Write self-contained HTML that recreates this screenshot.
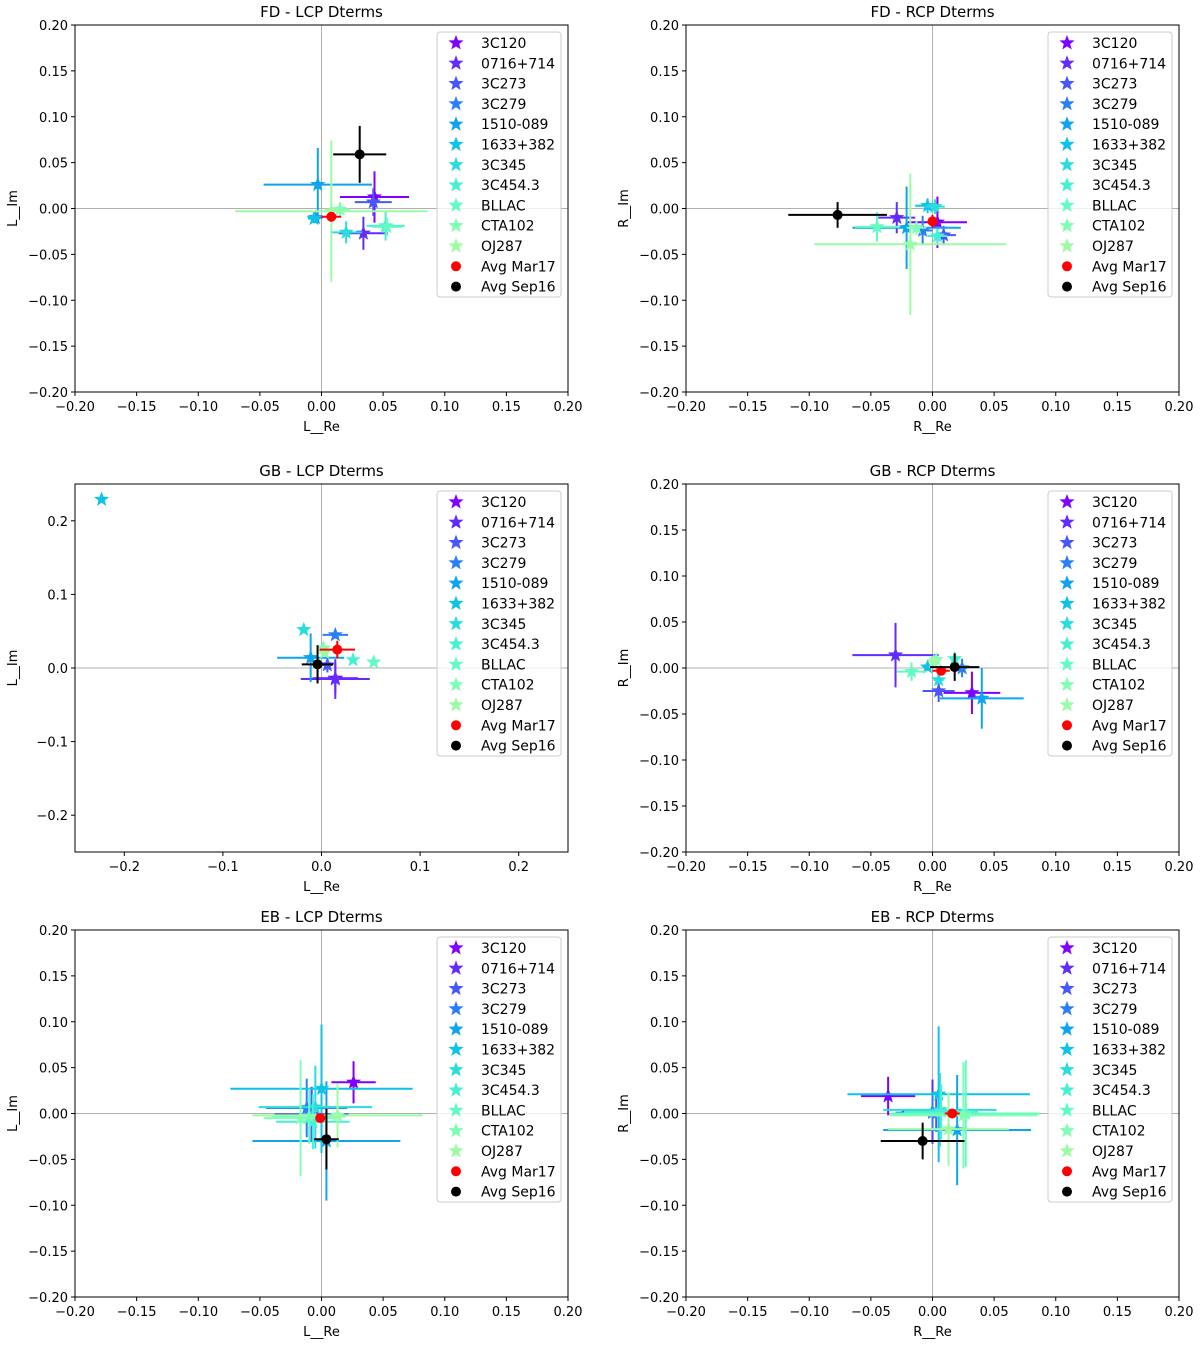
<!DOCTYPE html>
<html><head><meta charset="utf-8"><style>
body{margin:0;background:#fff;}
svg text{font-family:"DejaVu Sans","Liberation Sans",sans-serif;fill:#000;}
</style></head><body>
<svg id="fig" width="1200" height="1344" xmlns="http://www.w3.org/2000/svg"></svg>
<script>
const sources = ["3C120","0716+714","3C273","3C279","1510-089","1633+382","3C345","3C454.3","BLLAC","CTA102","OJ287","Avg Mar17","Avg Sep16"];
const fdL_x = [0.043,0.034,0.042,-0.005,-0.003,-0.006,0.020,0.052,0.053,0.015,0.008,0.008,0.031];
const fdL_y = [0.0125,-0.027,0.007,-0.010,0.026,-0.011,-0.026,-0.019,-0.020,-0.001,-0.003,-0.009,0.059];
const fdL_xe = [0.028,0.020,0.015,0.006,0.044,0.005,0.013,0.0155,0.012,0.008,0.078,0.008,0.0215];
const fdL_ye = [0.028,0.018,0.015,0.006,0.040,0.005,0.012,0.016,0.010,0.008,0.077,0.004,0.031];
const fdR_x = [0.004,-0.029,0.009,-0.008,-0.021,-0.004,0.002,0.004,-0.045,-0.013,-0.018,0.000,-0.077];
const fdR_y = [-0.015,-0.010,-0.029,-0.024,-0.021,0.003,0.002,-0.030,-0.020,-0.021,-0.039,-0.014,-0.007];
const fdR_xe = [0.024,0.015,0.010,0.008,0.044,0.010,0.008,0.008,0.018,0.008,0.078,0.003,0.040];
const fdR_ye = [0.028,0.017,0.010,0.016,0.045,0.008,0.008,0.008,0.016,0.008,0.077,0.007,0.014];
const gbL_x = [0.014,0.014,0.006,0.014,-0.011,-0.223,-0.018,0.032,0.053,0.002,0.003,0.016,-0.004];
const gbL_y = [-0.014,-0.015,0.004,0.045,0.014,0.229,0.052,0.011,0.008,0.027,0.021,0.025,0.005];
const gbL_xe = [0.023,0.035,0.005,0.013,0.034,0.000,0.004,0.004,0.004,0.004,0.004,0.018,0.016];
const gbL_ye = [0.020,0.027,0.010,0.005,0.033,0.000,0.004,0.004,0.004,0.004,0.004,0.012,0.026];
const gbR_x = [0.032,-0.030,0.005,0.024,0.040,-0.004,0.005,0.018,-0.017,0.003,0.001,0.007,0.018];
const gbR_y = [-0.027,0.014,-0.025,0.000,-0.033,0.001,-0.013,0.010,-0.004,0.009,0.007,-0.003,0.001];
const gbR_xe = [0.023,0.035,0.013,0.004,0.034,0.004,0.004,0.004,0.012,0.004,0.004,0.007,0.020];
const gbR_ye = [0.023,0.035,0.012,0.010,0.033,0.004,0.004,0.004,0.010,0.004,0.004,0.005,0.015];
const ebL_x = [0.026,-0.008,-0.008,-0.012,0.004,0.000,-0.005,-0.007,-0.010,-0.017,0.013,-0.001,0.004];
const ebL_y = [0.034,-0.001,-0.001,0.006,-0.030,0.027,0.007,-0.009,-0.003,-0.005,-0.002,-0.005,-0.028];
const ebL_xe = [0.018,0.030,0.030,0.033,0.060,0.074,0.046,0.030,0.030,0.030,0.069,0.004,0.010];
const ebL_ye = [0.023,0.030,0.030,0.032,0.065,0.070,0.045,0.030,0.030,0.063,0.035,0.004,0.033];
const ebR_x = [-0.036,0.000,0.003,0.000,0.020,0.005,0.006,0.007,0.027,0.025,0.013,0.016,-0.008];
const ebR_y = [0.019,0.002,0.000,0.001,-0.018,0.021,0.004,0.002,0.000,-0.002,-0.017,0.000,-0.030];
const ebR_xe = [0.022,0.025,0.025,0.030,0.060,0.074,0.046,0.030,0.060,0.060,0.049,0.006,0.034];
const ebR_ye = [0.021,0.035,0.020,0.020,0.060,0.074,0.040,0.030,0.058,0.058,0.040,0.004,0.020];
const ticks05 = [-0.20,-0.15,-0.10,-0.05,0.00,0.05,0.10,0.15,0.20];
const ticks1 = [-0.2,-0.1,0.0,0.1,0.2];

const NS="http://www.w3.org/2000/svg";
const svg=document.getElementById('fig');
function mk(tag,attrs,parent){const e=document.createElementNS(NS,tag);for(const k in attrs)e.setAttribute(k,attrs[k]);(parent||svg).appendChild(e);return e;}
function rainbow(t){const r=Math.min(1,Math.abs(2*t-0.5)),g=Math.sin(Math.PI*t),b=Math.cos(Math.PI*t/2);
 return 'rgb('+Math.round(r*255)+','+Math.round(g*255)+','+Math.round(b*255)+')';}
const colors=sources.map((s,i)=>i<11?rainbow(i/18):(i==11?'#ff0000':'#000000'));
function starPath(cx,cy,R){const r=R*0.42;let d='';for(let k=0;k<10;k++){const a=-Math.PI/2+k*Math.PI/5;const rr=k%2?r:R;d+=(k?'L':'M')+(cx+rr*Math.cos(a)).toFixed(1)+','+(cy+rr*Math.sin(a)).toFixed(1);}return d+'Z';}
function fmt(v,dec){const s=Math.abs(v).toFixed(dec);return (v<-1e-9?'\u2212':'')+s;}

function panel(o){
 const g=mk('g',{});
 
 
 const X=v=>o.x0+(v-o.xmin)/(o.xmax-o.xmin)*(o.x1-o.x0);
 const Y=v=>o.y1-(v-o.ymin)/(o.ymax-o.ymin)*(o.y1-o.y0);
 const zx=mk('line',{x1:X(0),x2:X(0),y1:o.y0,y2:o.y1,stroke:'#b0b0b0','stroke-width':1},g);
 
 
 const zy=mk('line',{x1:o.x0,x2:o.x1,y1:Y(0),y2:Y(0),stroke:'#b0b0b0','stroke-width':1},g);
 
 
 for(let i=0;i<sources.length;i++){
  const sg=mk('g',{},g);
  
  
  const cx=X(o.dx[i]),cy=Y(o.dy[i]);
  mk('line',{x1:X(o.dx[i]-o.ex[i]),x2:X(o.dx[i]+o.ex[i]),y1:cy,y2:cy,stroke:colors[i],'stroke-width':2},sg);
  mk('line',{x1:cx,x2:cx,y1:Y(o.dy[i]-o.ey[i]),y2:Y(o.dy[i]+o.ey[i]),stroke:colors[i],'stroke-width':2},sg);
  if(i<11) mk('path',{d:starPath(cx,cy,8),fill:colors[i]},sg);
  else mk('circle',{cx:cx,cy:cy,r:5,fill:colors[i]},sg);
 }
 const fr=mk('rect',{x:o.x0,y:o.y0,width:o.x1-o.x0,height:o.y1-o.y0,fill:'none',stroke:'#000','stroke-width':1},g);
 
 
 o.xt.forEach(v=>{const x=X(v);mk('line',{x1:x,x2:x,y1:o.y1,y2:o.y1+4,stroke:'#000'},g);
  const t=mk('text',{x:x,y:o.y1+19,'text-anchor':'middle','font-size':13},g);t.textContent=fmt(v,o.xd);
  
  });
 o.yt.forEach(v=>{const y=Y(v);mk('line',{x1:o.x0-4,x2:o.x0,y1:y,y2:y,stroke:'#000'},g);
  const t=mk('text',{x:o.x0-7,y:y+5,'text-anchor':'end','font-size':13},g);t.textContent=fmt(v,o.yd);
  
  });
 const tt=mk('text',{x:(o.x0+o.x1)/2,y:o.y0-8,'text-anchor':'middle','font-size':15},g);tt.textContent=o.title;
 
 
 const xl=mk('text',{x:(o.x0+o.x1)/2,y:o.y1+39,'text-anchor':'middle','font-size':13},g);xl.textContent=o.xl;
 
 
 const yc=(o.y0+o.y1)/2,yx=o.x0-58;
 const yl=mk('text',{x:yx,y:yc,'text-anchor':'middle','font-size':13,transform:'rotate(-90 '+yx+' '+yc+')'},g);yl.textContent=o.yl;
 
 
 const lx=o.x1-131,ly=o.y0+7;
 const lg=mk('g',{},g);
 
 
 mk('rect',{x:lx,y:ly,width:124,height:265,rx:3,fill:'#fff','fill-opacity':0.8,stroke:'#cccccc'},lg);
 sources.forEach((s,i)=>{const yy=ly+11+i*20.3;
  const e=mk('g',{},lg);
  
  
  if(i<11) mk('path',{d:starPath(lx+19,yy,8),fill:colors[i]},e);
  else mk('circle',{cx:lx+19,cy:yy,r:5,fill:colors[i]},e);
  const t=mk('text',{x:lx+44,y:yy+5,'font-size':14},e);t.textContent=s;});
}
const L=[75,568],R=[686,1179];
const rows=[[25,392],[484,852],[930,1297]];
panel({name:'panel-fd-lcp',title:'FD - LCP Dterms',xl:'L__Re',yl:'L__Im',x0:L[0],x1:L[1],y0:rows[0][0],y1:rows[0][1],xmin:-0.2,xmax:0.2,ymin:-0.2,ymax:0.2,xt:ticks05,yt:ticks05,xd:2,yd:2,dx:fdL_x,dy:fdL_y,ex:fdL_xe,ey:fdL_ye});
panel({name:'panel-fd-rcp',title:'FD - RCP Dterms',xl:'R__Re',yl:'R__Im',x0:R[0],x1:R[1],y0:rows[0][0],y1:rows[0][1],xmin:-0.2,xmax:0.2,ymin:-0.2,ymax:0.2,xt:ticks05,yt:ticks05,xd:2,yd:2,dx:fdR_x,dy:fdR_y,ex:fdR_xe,ey:fdR_ye});
panel({name:'panel-gb-lcp',title:'GB - LCP Dterms',xl:'L__Re',yl:'L__Im',x0:L[0],x1:L[1],y0:rows[1][0],y1:rows[1][1],xmin:-0.25,xmax:0.25,ymin:-0.25,ymax:0.25,xt:ticks1,yt:ticks1,xd:1,yd:1,dx:gbL_x,dy:gbL_y,ex:gbL_xe,ey:gbL_ye});
panel({name:'panel-gb-rcp',title:'GB - RCP Dterms',xl:'R__Re',yl:'R__Im',x0:R[0],x1:R[1],y0:rows[1][0],y1:rows[1][1],xmin:-0.2,xmax:0.2,ymin:-0.2,ymax:0.2,xt:ticks05,yt:ticks05,xd:2,yd:2,dx:gbR_x,dy:gbR_y,ex:gbR_xe,ey:gbR_ye});
panel({name:'panel-eb-lcp',title:'EB - LCP Dterms',xl:'L__Re',yl:'L__Im',x0:L[0],x1:L[1],y0:rows[2][0],y1:rows[2][1],xmin:-0.2,xmax:0.2,ymin:-0.2,ymax:0.2,xt:ticks05,yt:ticks05,xd:2,yd:2,dx:ebL_x,dy:ebL_y,ex:ebL_xe,ey:ebL_ye});
panel({name:'panel-eb-rcp',title:'EB - RCP Dterms',xl:'R__Re',yl:'R__Im',x0:R[0],x1:R[1],y0:rows[2][0],y1:rows[2][1],xmin:-0.2,xmax:0.2,ymin:-0.2,ymax:0.2,xt:ticks05,yt:ticks05,xd:2,yd:2,dx:ebR_x,dy:ebR_y,ex:ebR_xe,ey:ebR_ye});
</script>
</body></html>
